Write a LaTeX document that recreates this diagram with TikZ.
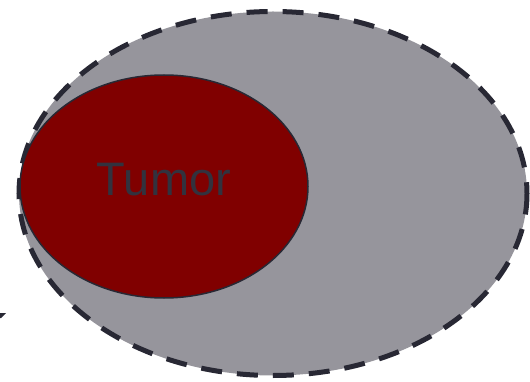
\documentclass[tikz,border=0pt]{standalone}
\usepackage{fontspec}
\setmainfont{Liberation Sans}
\definecolor{greyfill}{RGB}{150,149,156}
\definecolor{dashcol}{RGB}{40,40,52}
\definecolor{tumorred}{RGB}{128,0,0}
\definecolor{textcol}{RGB}{50,50,62}
\begin{document}
\begin{tikzpicture}[x=1pt,y=-1pt,
  outerell/.style={fill=greyfill,draw=dashcol,line width=5pt,dash pattern=on 21pt off 15pt},
  tumorell/.style={fill=tumorred,draw=dashcol,line width=1.5pt},
  tumortext/.style={text=textcol,font=\fontsize{47}{56}\selectfont}]
\useasboundingbox (0,0) rectangle (530,382);
\draw[outerell] (273,193.5) ellipse [x radius=254, y radius=182];
\draw[tumorell] (164,186.5) ellipse [x radius=144, y radius=111.5];
\node[tumortext] (tumor) at (164,180) {Tumor};
\fill[dashcol] (0,313) -- (6,313) -- (1,318) -- (0,318) -- cycle;
\end{tikzpicture}
\end{document}
